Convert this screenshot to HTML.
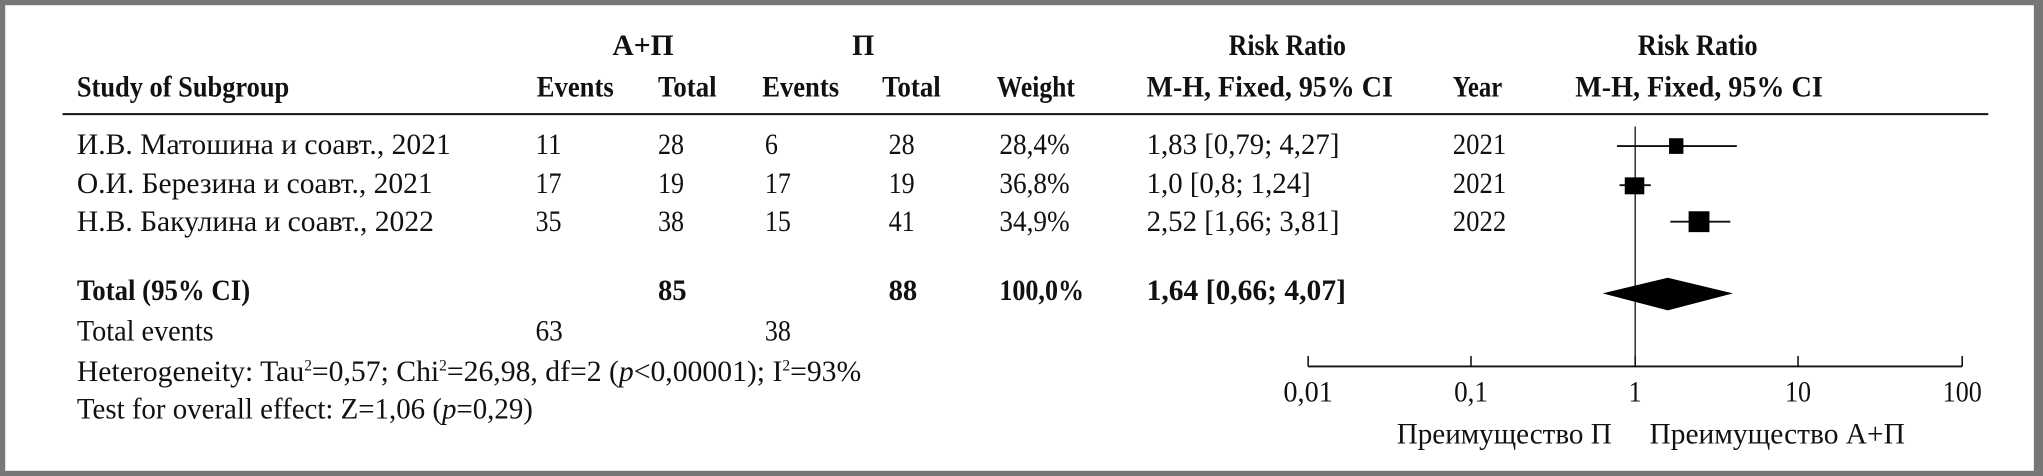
<!DOCTYPE html>
<html><head><meta charset="utf-8"><style>
html,body{margin:0;padding:0;background:#777;}
svg{display:block;}
text{font-family:"Liberation Serif","DejaVu Serif",serif;font-size:23px;fill:#111;}
.b{font-weight:bold;}
</style></head><body>
<svg width="2043" height="476" viewBox="0 0 1568 365" preserveAspectRatio="none" xmlns="http://www.w3.org/2000/svg">
<rect x="0" y="0" width="1568" height="365" fill="#777"/>
<rect x="4" y="4" width="1557" height="357" fill="#fff"/>
<text class="b" x="470" y="42" textLength="47" lengthAdjust="spacingAndGlyphs">A+П</text>
<text class="b" x="654" y="42" textLength="17" lengthAdjust="spacingAndGlyphs">П</text>
<text class="b" x="943" y="42" textLength="90" lengthAdjust="spacingAndGlyphs">Risk Ratio</text>
<text class="b" x="1257" y="42" textLength="92" lengthAdjust="spacingAndGlyphs">Risk Ratio</text>
<text class="b" x="59" y="74" textLength="163" lengthAdjust="spacingAndGlyphs">Study of Subgroup</text>
<text class="b" x="412" y="74" textLength="59" lengthAdjust="spacingAndGlyphs">Events</text>
<text class="b" x="505" y="74" textLength="45" lengthAdjust="spacingAndGlyphs">Total</text>
<text class="b" x="585" y="74" textLength="59" lengthAdjust="spacingAndGlyphs">Events</text>
<text class="b" x="677" y="74" textLength="45" lengthAdjust="spacingAndGlyphs">Total</text>
<text class="b" x="765" y="74" textLength="60" lengthAdjust="spacingAndGlyphs">Weight</text>
<text class="b" x="880" y="74" textLength="189" lengthAdjust="spacingAndGlyphs">M-H, Fixed, 95% CI</text>
<text class="b" x="1115" y="74" textLength="38" lengthAdjust="spacingAndGlyphs">Year</text>
<text class="b" x="1209" y="74" textLength="190" lengthAdjust="spacingAndGlyphs">M-H, Fixed, 95% CI</text>
<line x1="48" y1="87.5" x2="1526" y2="87.5" stroke="#111" stroke-width="1.5"/>

<text x="59" y="118" textLength="287" lengthAdjust="spacingAndGlyphs">И.В. Матошина и соавт., 2021</text>
<text x="411" y="118" textLength="20" lengthAdjust="spacingAndGlyphs">11</text><text x="505" y="118" textLength="20" lengthAdjust="spacingAndGlyphs">28</text><text x="587" y="118" textLength="10" lengthAdjust="spacingAndGlyphs">6</text><text x="682" y="118" textLength="20" lengthAdjust="spacingAndGlyphs">28</text>
<text x="767" y="118" textLength="54" lengthAdjust="spacingAndGlyphs">28,4%</text>
<text x="880" y="118" textLength="148" lengthAdjust="spacingAndGlyphs">1,83 [0,79; 4,27]</text>
<text x="1115" y="118" textLength="41" lengthAdjust="spacingAndGlyphs">2021</text>

<text x="59" y="148" textLength="273" lengthAdjust="spacingAndGlyphs">О.И. Березина и соавт., 2021</text>
<text x="411" y="148" textLength="20" lengthAdjust="spacingAndGlyphs">17</text><text x="505" y="148" textLength="20" lengthAdjust="spacingAndGlyphs">19</text><text x="587" y="148" textLength="20" lengthAdjust="spacingAndGlyphs">17</text><text x="682" y="148" textLength="20" lengthAdjust="spacingAndGlyphs">19</text>
<text x="767" y="148" textLength="54" lengthAdjust="spacingAndGlyphs">36,8%</text>
<text x="880" y="148" textLength="126" lengthAdjust="spacingAndGlyphs">1,0 [0,8; 1,24]</text>
<text x="1115" y="148" textLength="41" lengthAdjust="spacingAndGlyphs">2021</text>

<text x="59" y="177" textLength="274" lengthAdjust="spacingAndGlyphs">Н.В. Бакулина и соавт., 2022</text>
<text x="411" y="177" textLength="20" lengthAdjust="spacingAndGlyphs">35</text><text x="505" y="177" textLength="20" lengthAdjust="spacingAndGlyphs">38</text><text x="587" y="177" textLength="20" lengthAdjust="spacingAndGlyphs">15</text><text x="682" y="177" textLength="20" lengthAdjust="spacingAndGlyphs">41</text>
<text x="767" y="177" textLength="54" lengthAdjust="spacingAndGlyphs">34,9%</text>
<text x="880" y="177" textLength="148" lengthAdjust="spacingAndGlyphs">2,52 [1,66; 3,81]</text>
<text x="1115" y="177" textLength="41" lengthAdjust="spacingAndGlyphs">2022</text>

<text class="b" x="59" y="230" textLength="133" lengthAdjust="spacingAndGlyphs">Total (95% CI)</text>
<text class="b" x="505" y="230" textLength="22" lengthAdjust="spacingAndGlyphs">85</text><text class="b" x="682" y="230" textLength="22" lengthAdjust="spacingAndGlyphs">88</text>
<text class="b" x="767" y="230" textLength="65" lengthAdjust="spacingAndGlyphs">100,0%</text>
<text class="b" x="880" y="230" textLength="153" lengthAdjust="spacingAndGlyphs">1,64 [0,66; 4,07]</text>

<text x="59" y="261" textLength="105" lengthAdjust="spacingAndGlyphs">Total events</text>
<text x="411" y="261" textLength="21" lengthAdjust="spacingAndGlyphs">63</text><text x="587" y="261" textLength="20" lengthAdjust="spacingAndGlyphs">38</text>
<text x="59" y="292" textLength="602" lengthAdjust="spacingAndGlyphs">Heterogeneity: Tau<tspan font-size="12" dy="-8">2</tspan><tspan dy="8">=0,57; Chi</tspan><tspan font-size="12" dy="-8">2</tspan><tspan dy="8">=26,98, df=2 (</tspan><tspan font-style="italic">p</tspan>&lt;0,00001); I<tspan font-size="12" dy="-8">2</tspan><tspan dy="8">=93%</tspan></text>
<text x="59" y="321" textLength="350" lengthAdjust="spacingAndGlyphs">Test for overall effect: Z=1,06 (<tspan font-style="italic">p</tspan>=0,29)</text>

<line x1="1255" y1="97" x2="1255" y2="281" stroke="#111" stroke-width="1"/>
<line x1="1241" y1="112" x2="1333" y2="112" stroke="#111" stroke-width="1.5"/>
<rect x="1281" y="106" width="11" height="12" fill="#000"/>
<line x1="1243" y1="142" x2="1267" y2="142" stroke="#111" stroke-width="1.5"/>
<rect x="1247" y="136" width="15" height="13" fill="#000"/>
<line x1="1282" y1="170" x2="1328" y2="170" stroke="#111" stroke-width="1.5"/>
<rect x="1296" y="162" width="16" height="16" fill="#000"/>
<polygon points="1230,225 1280,213 1330,225 1280,238" fill="#000"/>

<line x1="1004" y1="281" x2="1506" y2="281" stroke="#111" stroke-width="1.5"/>
<g stroke="#111" stroke-width="1.2">
<line x1="1004" y1="273" x2="1004" y2="281"/><line x1="1129" y1="273" x2="1129" y2="281"/>
<line x1="1255" y1="273" x2="1255" y2="281"/><line x1="1380" y1="273" x2="1380" y2="281"/>
<line x1="1506" y1="273" x2="1506" y2="281"/>
</g>
<text x="985" y="308" textLength="38" lengthAdjust="spacingAndGlyphs">0,01</text>
<text x="1116" y="308" textLength="26" lengthAdjust="spacingAndGlyphs">0,1</text>
<text x="1250" y="308" textLength="10" lengthAdjust="spacingAndGlyphs">1</text>
<text x="1370" y="308" textLength="20" lengthAdjust="spacingAndGlyphs">10</text>
<text x="1491" y="308" textLength="30" lengthAdjust="spacingAndGlyphs">100</text>
<text x="1072" y="340" textLength="165" lengthAdjust="spacingAndGlyphs">Преимущество П</text>
<text x="1266" y="340" textLength="196" lengthAdjust="spacingAndGlyphs">Преимущество А+П</text>
</svg>
</body></html>
